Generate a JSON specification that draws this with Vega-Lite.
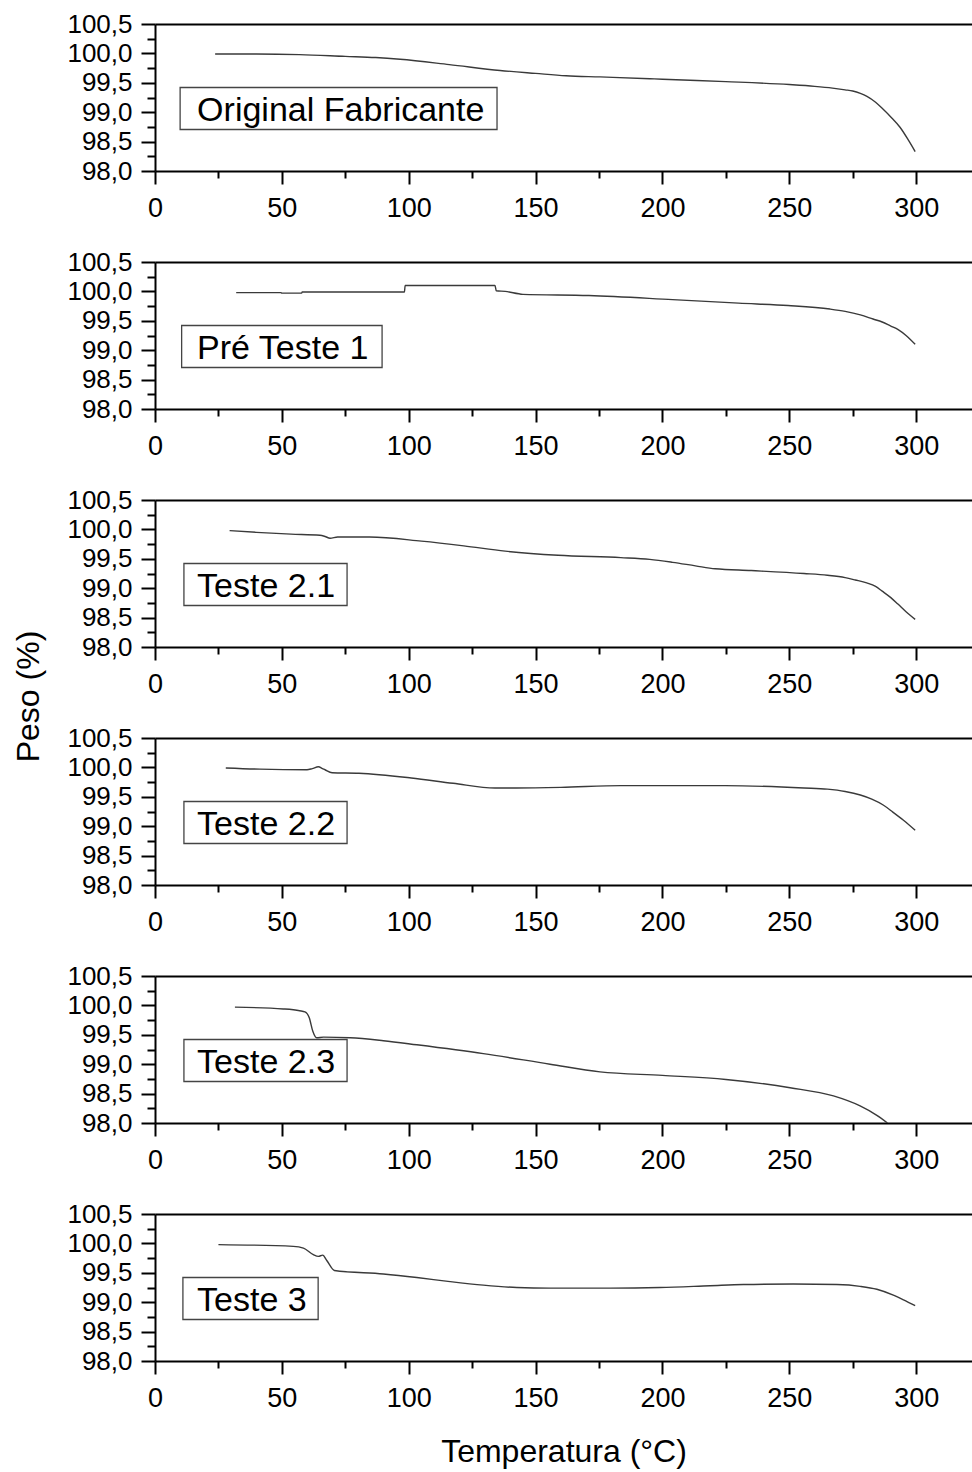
{
"$schema":"https://vega.github.io/schema/vega-lite/v6.json",
"autosize":{"type":"pad"},
"padding":{"left":12,"top":11,"right":0,"bottom":4},
"background":"white",
"config":{"view":{"stroke":null},
 "axis":{"domainColor":"black","domainWidth":2,"tickColor":"black","tickWidth":2,"grid":false,"labelFont":"Liberation Sans","labelFontSize":26,"labelColor":"black","labelOverlap":false,"labelFlush":false,"labelBound":false,"titleFont":"Liberation Sans","titleFontSize":32,"titleFontWeight":"normal","titleColor":"black"},
 "concat":{"spacing":91}},
"bounds":"flush",
"datasets":{
"curves":[
{"panel":1,"T":23.7,"peso":99.99},{"panel":1,"T":40,"peso":99.99},{"panel":1,"T":57,"peso":99.98},{"panel":1,"T":75,"peso":99.95},{"panel":1,"T":87,"peso":99.93},{"panel":1,"T":96.6,"peso":99.9},{"panel":1,"T":116,"peso":99.81},{"panel":1,"T":136,"peso":99.71},{"panel":1,"T":150,"peso":99.66},{"panel":1,"T":162,"peso":99.62},{"panel":1,"T":175.4,"peso":99.6},{"panel":1,"T":195,"peso":99.57},{"panel":1,"T":200,"peso":99.56},{"panel":1,"T":225,"peso":99.52},{"panel":1,"T":250,"peso":99.47},{"panel":1,"T":260,"peso":99.44},{"panel":1,"T":267,"peso":99.41},{"panel":1,"T":272,"peso":99.38},{"panel":1,"T":275,"peso":99.36},{"panel":1,"T":278,"peso":99.32},{"panel":1,"T":280.6,"peso":99.27},{"panel":1,"T":284,"peso":99.17},{"panel":1,"T":287,"peso":99.05},{"panel":1,"T":290,"peso":98.92},{"panel":1,"T":293.7,"peso":98.74},{"panel":1,"T":297,"peso":98.52},{"panel":1,"T":299.6,"peso":98.33},
{"panel":2,"T":32,"peso":99.98},{"panel":2,"T":49.6,"peso":99.98},{"panel":2,"T":50,"peso":99.97},{"panel":2,"T":57.8,"peso":99.97},{"panel":2,"T":58,"peso":99.99},{"panel":2,"T":98.3,"peso":99.99},{"panel":2,"T":98.6,"peso":100.1},{"panel":2,"T":134,"peso":100.1},{"panel":2,"T":134.5,"peso":100.01},{"panel":2,"T":138,"peso":100.0},{"panel":2,"T":145,"peso":99.95},{"panel":2,"T":171,"peso":99.93},{"panel":2,"T":204,"peso":99.86},{"panel":2,"T":230,"peso":99.8},{"panel":2,"T":249.5,"peso":99.76},{"panel":2,"T":266,"peso":99.7},{"panel":2,"T":272,"peso":99.66},{"panel":2,"T":278,"peso":99.6},{"panel":2,"T":283,"peso":99.53},{"panel":2,"T":286.6,"peso":99.48},{"panel":2,"T":290,"peso":99.41},{"panel":2,"T":292.9,"peso":99.35},{"panel":2,"T":296,"peso":99.25},{"panel":2,"T":299.6,"peso":99.1},
{"panel":3,"T":29.4,"peso":99.98},{"panel":3,"T":40,"peso":99.95},{"panel":3,"T":53.6,"peso":99.92},{"panel":3,"T":65,"peso":99.9},{"panel":3,"T":67,"peso":99.88},{"panel":3,"T":69,"peso":99.85},{"panel":3,"T":72,"peso":99.87},{"panel":3,"T":84.6,"peso":99.87},{"panel":3,"T":105,"peso":99.8},{"panel":3,"T":121.7,"peso":99.72},{"panel":3,"T":138,"peso":99.63},{"panel":3,"T":158.9,"peso":99.56},{"panel":3,"T":183.6,"peso":99.52},{"panel":3,"T":195,"peso":99.49},{"panel":3,"T":204,"peso":99.44},{"panel":3,"T":213,"peso":99.38},{"panel":3,"T":220.8,"peso":99.33},{"panel":3,"T":235,"peso":99.3},{"panel":3,"T":255.8,"peso":99.25},{"panel":3,"T":265,"peso":99.22},{"panel":3,"T":272,"peso":99.18},{"panel":3,"T":276,"peso":99.14},{"panel":3,"T":280.5,"peso":99.09},{"panel":3,"T":284,"peso":99.03},{"panel":3,"T":286.6,"peso":98.95},{"panel":3,"T":290,"peso":98.84},{"panel":3,"T":292.8,"peso":98.73},{"panel":3,"T":296,"peso":98.6},{"panel":3,"T":299.6,"peso":98.47},
{"panel":4,"T":27.9,"peso":99.99},{"panel":4,"T":41.3,"peso":99.97},{"panel":4,"T":59.9,"peso":99.96},{"panel":4,"T":62,"peso":99.98},{"panel":4,"T":64.4,"peso":100.01},{"panel":4,"T":66,"peso":99.98},{"panel":4,"T":67,"peso":99.96},{"panel":4,"T":69.8,"peso":99.91},{"panel":4,"T":80.4,"peso":99.9},{"panel":4,"T":101,"peso":99.82},{"panel":4,"T":117.5,"peso":99.73},{"panel":4,"T":134,"peso":99.65},{"panel":4,"T":142.3,"peso":99.65},{"panel":4,"T":160,"peso":99.66},{"panel":4,"T":183.6,"peso":99.69},{"panel":4,"T":224.7,"peso":99.69},{"panel":4,"T":255.8,"peso":99.65},{"panel":4,"T":265,"peso":99.63},{"panel":4,"T":272,"peso":99.59},{"panel":4,"T":278,"peso":99.53},{"panel":4,"T":282.5,"peso":99.46},{"panel":4,"T":287,"peso":99.36},{"panel":4,"T":290.8,"peso":99.24},{"panel":4,"T":295,"peso":99.1},{"panel":4,"T":299.6,"peso":98.93},
{"panel":5,"T":31.5,"peso":99.97},{"panel":5,"T":50.6,"peso":99.94},{"panel":5,"T":57,"peso":99.91},{"panel":5,"T":59.1,"peso":99.89},{"panel":5,"T":60.8,"peso":99.79},{"panel":5,"T":62.2,"peso":99.56},{"panel":5,"T":63.7,"peso":99.45},{"panel":5,"T":66.4,"peso":99.46},{"panel":5,"T":76.9,"peso":99.45},{"panel":5,"T":90,"peso":99.4},{"panel":5,"T":103.2,"peso":99.33},{"panel":5,"T":129.4,"peso":99.18},{"panel":5,"T":155.7,"peso":99.0},{"panel":5,"T":175.4,"peso":98.87},{"panel":5,"T":200,"peso":98.81},{"panel":5,"T":225,"peso":98.74},{"panel":5,"T":250.3,"peso":98.6},{"panel":5,"T":267.4,"peso":98.46},{"panel":5,"T":277.9,"peso":98.29},{"panel":5,"T":284.5,"peso":98.13},{"panel":5,"T":288.7,"peso":98.0},
{"panel":6,"T":25,"peso":99.98},{"panel":6,"T":54.5,"peso":99.95},{"panel":6,"T":58.5,"peso":99.92},{"panel":6,"T":62.4,"peso":99.81},{"panel":6,"T":64.4,"peso":99.78},{"panel":6,"T":66.1,"peso":99.8},{"panel":6,"T":67.7,"peso":99.71},{"panel":6,"T":70.7,"peso":99.54},{"panel":6,"T":90,"peso":99.48},{"panel":6,"T":103.2,"peso":99.42},{"panel":6,"T":116.3,"peso":99.35},{"panel":6,"T":129.4,"peso":99.29},{"panel":6,"T":142.6,"peso":99.25},{"panel":6,"T":155.7,"peso":99.24},{"panel":6,"T":179.4,"peso":99.24},{"panel":6,"T":199,"peso":99.25},{"panel":6,"T":218.8,"peso":99.28},{"panel":6,"T":231.9,"peso":99.3},{"panel":6,"T":251.6,"peso":99.31},{"panel":6,"T":268.7,"peso":99.3},{"panel":6,"T":277.9,"peso":99.27},{"panel":6,"T":284.5,"peso":99.22},{"panel":6,"T":291,"peso":99.12},{"panel":6,"T":295,"peso":99.04},{"panel":6,"T":299.6,"peso":98.94}
],
"labels":[
{"panel":1,"label":"Original Fabricante","x0":9.9,"x1":134.8,"y0":99.42,"y1":98.706,"tx":16.6,"ty":99.02},
{"panel":2,"label":"Pré Teste 1","x0":10.5,"x1":89.5,"y0":99.42,"y1":98.706,"tx":16.6,"ty":99.02},
{"panel":3,"label":"Teste 2.1","x0":11.4,"x1":75.7,"y0":99.42,"y1":98.706,"tx":16.6,"ty":99.02},
{"panel":4,"label":"Teste 2.2","x0":11.4,"x1":75.7,"y0":99.42,"y1":98.706,"tx":16.6,"ty":99.02},
{"panel":5,"label":"Teste 2.3","x0":11.4,"x1":75.7,"y0":99.42,"y1":98.706,"tx":16.6,"ty":99.02},
{"panel":6,"label":"Teste 3","x0":11.0,"x1":64.3,"y0":99.42,"y1":98.706,"tx":16.6,"ty":99.02}
]},
"vconcat":[
{"width":817,"height":147,"resolve":{"axis":{"x":"independent","y":"independent"}},"layer":[
 {"data":{"name":"curves"},"transform":[{"filter":"datum.panel === 1"}],"mark":{"type":"line","color":"#3a3a3a","strokeWidth":1.4,"clip":true,"interpolate":"monotone"},
  "encoding":{"x":{"field":"T","type":"quantitative","scale":{"domain":[0,322],"nice":false,"zero":false},"axis":{"title":null,"values":[0,25,50,75,100,125,150,175,200,225,250,275,300],"tickSize":{"condition":{"test":"datum.value % 50 === 0","value":13},"value":7},"labelExpr":"datum.value % 50 === 0 ? datum.label : ''","labelFontSize":27,"labelPadding":11}},
   "y":{"field":"peso","type":"quantitative","scale":{"domain":[98,100.5],"nice":false,"zero":false},"axis":{"title":null,"values":[98,98.25,98.5,98.75,99,99.25,99.5,99.75,100,100.25,100.5],"tickSize":{"condition":{"test":"abs(datum.value*2 - round(datum.value*2)) < 0.01","value":14},"value":8},"labelExpr":"abs(datum.value*2 - round(datum.value*2)) < 0.01 ? replace(format(datum.value, '.1f'), '.', ',') : ''","labelPadding":9}}}},
 {"data":{"name":"labels"},"transform":[{"filter":"datum.panel === 1"}],"mark":{"type":"rect","fill":"white","stroke":"#444","strokeWidth":1.3},
  "encoding":{"x":{"field":"x0","type":"quantitative","scale":{"domain":[0,322],"nice":false,"zero":false},"axis":{"orient":"top","title":null,"labels":false,"ticks":false}},"x2":{"field":"x1"},"y":{"field":"y0","type":"quantitative","scale":{"domain":[98,100.5],"nice":false,"zero":false},"axis":null},"y2":{"field":"y1"}}},
 {"data":{"name":"labels"},"transform":[{"filter":"datum.panel === 1"}],"mark":{"type":"text","align":"left","baseline":"middle","font":"Liberation Sans","fontSize":34,"color":"black"},
  "encoding":{"x":{"field":"tx","type":"quantitative","scale":{"domain":[0,322],"nice":false,"zero":false},"axis":null},"y":{"field":"ty","type":"quantitative","scale":{"domain":[98,100.5],"nice":false,"zero":false},"axis":null},"text":{"field":"label"}}}
]},
{"width":817,"height":147,"resolve":{"axis":{"x":"independent","y":"independent"}},"layer":[
 {"data":{"name":"curves"},"transform":[{"filter":"datum.panel === 2"}],"mark":{"type":"line","color":"#3a3a3a","strokeWidth":1.4,"clip":true,"interpolate":"monotone"},
  "encoding":{"x":{"field":"T","type":"quantitative","scale":{"domain":[0,322],"nice":false,"zero":false},"axis":{"title":null,"values":[0,25,50,75,100,125,150,175,200,225,250,275,300],"tickSize":{"condition":{"test":"datum.value % 50 === 0","value":13},"value":7},"labelExpr":"datum.value % 50 === 0 ? datum.label : ''","labelFontSize":27,"labelPadding":11}},
   "y":{"field":"peso","type":"quantitative","scale":{"domain":[98,100.5],"nice":false,"zero":false},"axis":{"title":null,"values":[98,98.25,98.5,98.75,99,99.25,99.5,99.75,100,100.25,100.5],"tickSize":{"condition":{"test":"abs(datum.value*2 - round(datum.value*2)) < 0.01","value":14},"value":8},"labelExpr":"abs(datum.value*2 - round(datum.value*2)) < 0.01 ? replace(format(datum.value, '.1f'), '.', ',') : ''","labelPadding":9}}}},
 {"data":{"name":"labels"},"transform":[{"filter":"datum.panel === 2"}],"mark":{"type":"rect","fill":"white","stroke":"#444","strokeWidth":1.3},
  "encoding":{"x":{"field":"x0","type":"quantitative","scale":{"domain":[0,322],"nice":false,"zero":false},"axis":{"orient":"top","title":null,"labels":false,"ticks":false}},"x2":{"field":"x1"},"y":{"field":"y0","type":"quantitative","scale":{"domain":[98,100.5],"nice":false,"zero":false},"axis":null},"y2":{"field":"y1"}}},
 {"data":{"name":"labels"},"transform":[{"filter":"datum.panel === 2"}],"mark":{"type":"text","align":"left","baseline":"middle","font":"Liberation Sans","fontSize":34,"color":"black"},
  "encoding":{"x":{"field":"tx","type":"quantitative","scale":{"domain":[0,322],"nice":false,"zero":false},"axis":null},"y":{"field":"ty","type":"quantitative","scale":{"domain":[98,100.5],"nice":false,"zero":false},"axis":null},"text":{"field":"label"}}}
]},
{"width":817,"height":147,"resolve":{"axis":{"x":"independent","y":"independent"}},"layer":[
 {"data":{"name":"curves"},"transform":[{"filter":"datum.panel === 3"}],"mark":{"type":"line","color":"#3a3a3a","strokeWidth":1.4,"clip":true,"interpolate":"monotone"},
  "encoding":{"x":{"field":"T","type":"quantitative","scale":{"domain":[0,322],"nice":false,"zero":false},"axis":{"title":null,"values":[0,25,50,75,100,125,150,175,200,225,250,275,300],"tickSize":{"condition":{"test":"datum.value % 50 === 0","value":13},"value":7},"labelExpr":"datum.value % 50 === 0 ? datum.label : ''","labelFontSize":27,"labelPadding":11}},
   "y":{"field":"peso","type":"quantitative","scale":{"domain":[98,100.5],"nice":false,"zero":false},"axis":{"title":"Peso (%)","titleAngle":270,"titleX":-127,"titleY":196,"titleAlign":"center","titleBaseline":"middle","values":[98,98.25,98.5,98.75,99,99.25,99.5,99.75,100,100.25,100.5],"tickSize":{"condition":{"test":"abs(datum.value*2 - round(datum.value*2)) < 0.01","value":14},"value":8},"labelExpr":"abs(datum.value*2 - round(datum.value*2)) < 0.01 ? replace(format(datum.value, '.1f'), '.', ',') : ''","labelPadding":9}}}},
 {"data":{"name":"labels"},"transform":[{"filter":"datum.panel === 3"}],"mark":{"type":"rect","fill":"white","stroke":"#444","strokeWidth":1.3},
  "encoding":{"x":{"field":"x0","type":"quantitative","scale":{"domain":[0,322],"nice":false,"zero":false},"axis":{"orient":"top","title":null,"labels":false,"ticks":false}},"x2":{"field":"x1"},"y":{"field":"y0","type":"quantitative","scale":{"domain":[98,100.5],"nice":false,"zero":false},"axis":null},"y2":{"field":"y1"}}},
 {"data":{"name":"labels"},"transform":[{"filter":"datum.panel === 3"}],"mark":{"type":"text","align":"left","baseline":"middle","font":"Liberation Sans","fontSize":34,"color":"black"},
  "encoding":{"x":{"field":"tx","type":"quantitative","scale":{"domain":[0,322],"nice":false,"zero":false},"axis":null},"y":{"field":"ty","type":"quantitative","scale":{"domain":[98,100.5],"nice":false,"zero":false},"axis":null},"text":{"field":"label"}}}
]},
{"width":817,"height":147,"resolve":{"axis":{"x":"independent","y":"independent"}},"layer":[
 {"data":{"name":"curves"},"transform":[{"filter":"datum.panel === 4"}],"mark":{"type":"line","color":"#3a3a3a","strokeWidth":1.4,"clip":true,"interpolate":"monotone"},
  "encoding":{"x":{"field":"T","type":"quantitative","scale":{"domain":[0,322],"nice":false,"zero":false},"axis":{"title":null,"values":[0,25,50,75,100,125,150,175,200,225,250,275,300],"tickSize":{"condition":{"test":"datum.value % 50 === 0","value":13},"value":7},"labelExpr":"datum.value % 50 === 0 ? datum.label : ''","labelFontSize":27,"labelPadding":11}},
   "y":{"field":"peso","type":"quantitative","scale":{"domain":[98,100.5],"nice":false,"zero":false},"axis":{"title":null,"values":[98,98.25,98.5,98.75,99,99.25,99.5,99.75,100,100.25,100.5],"tickSize":{"condition":{"test":"abs(datum.value*2 - round(datum.value*2)) < 0.01","value":14},"value":8},"labelExpr":"abs(datum.value*2 - round(datum.value*2)) < 0.01 ? replace(format(datum.value, '.1f'), '.', ',') : ''","labelPadding":9}}}},
 {"data":{"name":"labels"},"transform":[{"filter":"datum.panel === 4"}],"mark":{"type":"rect","fill":"white","stroke":"#444","strokeWidth":1.3},
  "encoding":{"x":{"field":"x0","type":"quantitative","scale":{"domain":[0,322],"nice":false,"zero":false},"axis":{"orient":"top","title":null,"labels":false,"ticks":false}},"x2":{"field":"x1"},"y":{"field":"y0","type":"quantitative","scale":{"domain":[98,100.5],"nice":false,"zero":false},"axis":null},"y2":{"field":"y1"}}},
 {"data":{"name":"labels"},"transform":[{"filter":"datum.panel === 4"}],"mark":{"type":"text","align":"left","baseline":"middle","font":"Liberation Sans","fontSize":34,"color":"black"},
  "encoding":{"x":{"field":"tx","type":"quantitative","scale":{"domain":[0,322],"nice":false,"zero":false},"axis":null},"y":{"field":"ty","type":"quantitative","scale":{"domain":[98,100.5],"nice":false,"zero":false},"axis":null},"text":{"field":"label"}}}
]},
{"width":817,"height":147,"resolve":{"axis":{"x":"independent","y":"independent"}},"layer":[
 {"data":{"name":"curves"},"transform":[{"filter":"datum.panel === 5"}],"mark":{"type":"line","color":"#3a3a3a","strokeWidth":1.4,"clip":true,"interpolate":"monotone"},
  "encoding":{"x":{"field":"T","type":"quantitative","scale":{"domain":[0,322],"nice":false,"zero":false},"axis":{"title":null,"values":[0,25,50,75,100,125,150,175,200,225,250,275,300],"tickSize":{"condition":{"test":"datum.value % 50 === 0","value":13},"value":7},"labelExpr":"datum.value % 50 === 0 ? datum.label : ''","labelFontSize":27,"labelPadding":11}},
   "y":{"field":"peso","type":"quantitative","scale":{"domain":[98,100.5],"nice":false,"zero":false},"axis":{"title":null,"values":[98,98.25,98.5,98.75,99,99.25,99.5,99.75,100,100.25,100.5],"tickSize":{"condition":{"test":"abs(datum.value*2 - round(datum.value*2)) < 0.01","value":14},"value":8},"labelExpr":"abs(datum.value*2 - round(datum.value*2)) < 0.01 ? replace(format(datum.value, '.1f'), '.', ',') : ''","labelPadding":9}}}},
 {"data":{"name":"labels"},"transform":[{"filter":"datum.panel === 5"}],"mark":{"type":"rect","fill":"white","stroke":"#444","strokeWidth":1.3},
  "encoding":{"x":{"field":"x0","type":"quantitative","scale":{"domain":[0,322],"nice":false,"zero":false},"axis":{"orient":"top","title":null,"labels":false,"ticks":false}},"x2":{"field":"x1"},"y":{"field":"y0","type":"quantitative","scale":{"domain":[98,100.5],"nice":false,"zero":false},"axis":null},"y2":{"field":"y1"}}},
 {"data":{"name":"labels"},"transform":[{"filter":"datum.panel === 5"}],"mark":{"type":"text","align":"left","baseline":"middle","font":"Liberation Sans","fontSize":34,"color":"black"},
  "encoding":{"x":{"field":"tx","type":"quantitative","scale":{"domain":[0,322],"nice":false,"zero":false},"axis":null},"y":{"field":"ty","type":"quantitative","scale":{"domain":[98,100.5],"nice":false,"zero":false},"axis":null},"text":{"field":"label"}}}
]},
{"width":817,"height":147,"resolve":{"axis":{"x":"independent","y":"independent"}},"layer":[
 {"data":{"name":"curves"},"transform":[{"filter":"datum.panel === 6"}],"mark":{"type":"line","color":"#3a3a3a","strokeWidth":1.4,"clip":true,"interpolate":"monotone"},
  "encoding":{"x":{"field":"T","type":"quantitative","scale":{"domain":[0,322],"nice":false,"zero":false},"axis":{"title":"Temperatura (°C)","titleY":90,"titleBaseline":"middle","values":[0,25,50,75,100,125,150,175,200,225,250,275,300],"tickSize":{"condition":{"test":"datum.value % 50 === 0","value":13},"value":7},"labelExpr":"datum.value % 50 === 0 ? datum.label : ''","labelFontSize":27,"labelPadding":11}},
   "y":{"field":"peso","type":"quantitative","scale":{"domain":[98,100.5],"nice":false,"zero":false},"axis":{"title":null,"values":[98,98.25,98.5,98.75,99,99.25,99.5,99.75,100,100.25,100.5],"tickSize":{"condition":{"test":"abs(datum.value*2 - round(datum.value*2)) < 0.01","value":14},"value":8},"labelExpr":"abs(datum.value*2 - round(datum.value*2)) < 0.01 ? replace(format(datum.value, '.1f'), '.', ',') : ''","labelPadding":9}}}},
 {"data":{"name":"labels"},"transform":[{"filter":"datum.panel === 6"}],"mark":{"type":"rect","fill":"white","stroke":"#444","strokeWidth":1.3},
  "encoding":{"x":{"field":"x0","type":"quantitative","scale":{"domain":[0,322],"nice":false,"zero":false},"axis":{"orient":"top","title":null,"labels":false,"ticks":false}},"x2":{"field":"x1"},"y":{"field":"y0","type":"quantitative","scale":{"domain":[98,100.5],"nice":false,"zero":false},"axis":null},"y2":{"field":"y1"}}},
 {"data":{"name":"labels"},"transform":[{"filter":"datum.panel === 6"}],"mark":{"type":"text","align":"left","baseline":"middle","font":"Liberation Sans","fontSize":34,"color":"black"},
  "encoding":{"x":{"field":"tx","type":"quantitative","scale":{"domain":[0,322],"nice":false,"zero":false},"axis":null},"y":{"field":"ty","type":"quantitative","scale":{"domain":[98,100.5],"nice":false,"zero":false},"axis":null},"text":{"field":"label"}}}
]}
]
}
